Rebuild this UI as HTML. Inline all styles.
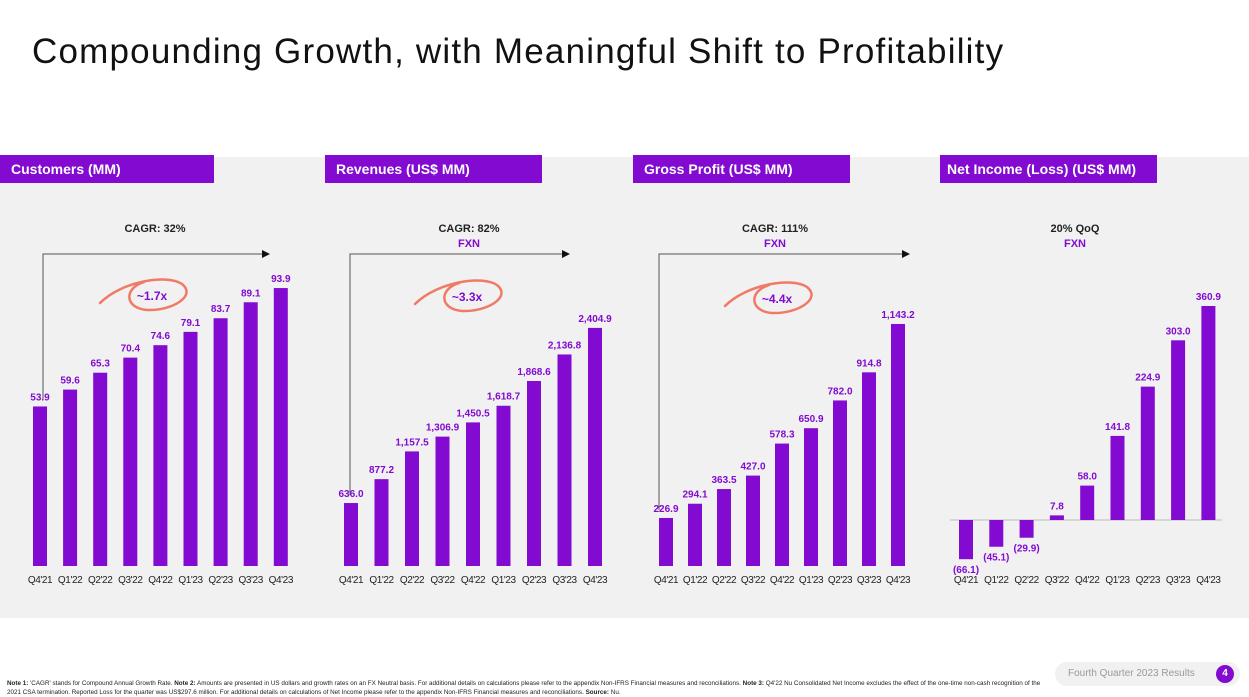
<!DOCTYPE html>
<html><head><meta charset="utf-8">
<style>
html,body{margin:0;padding:0;background:#fff;}
body{width:1249px;height:697px;position:relative;overflow:hidden;font-family:"Liberation Sans",sans-serif;}
#title{position:absolute;left:32px;top:32px;font-size:35px;color:#111;letter-spacing:1.2px;white-space:nowrap;}
#bg{position:absolute;left:0;top:157px;width:1249px;height:461px;background:#f1f1f1;}
.tbar{position:absolute;top:155px;height:28px;background:#820ad1;color:#fff;font-weight:bold;font-size:14px;line-height:28px;padding-left:11px;box-sizing:border-box;}
#note{position:absolute;left:7px;top:679px;font-size:6.3px;color:#222;line-height:9px;width:1040px;}
#badge{position:absolute;left:1055px;top:662px;width:185px;height:24px;border-radius:12px;background:#f1f1f1;color:#999;font-size:10px;line-height:24px;}
#badge span{position:absolute;left:13px;}
#badge b{position:absolute;right:6px;top:3px;width:18px;height:18px;border-radius:9px;background:#820ad1;color:#fff;text-align:center;line-height:18px;font-size:10px;}
svg{position:absolute;left:0;top:0;}
</style></head><body>
<div id="title">Compounding Growth, with Meaningful Shift to Profitability</div>
<div id="bg"></div>
<div class="tbar" style="left:0;width:214px">Customers (MM)</div>
<div class="tbar" style="left:325px;width:217px">Revenues (US$ MM)</div>
<div class="tbar" style="left:633px;width:217px">Gross Profit (US$ MM)</div>
<div class="tbar" style="left:940px;width:217px;padding-left:7px">Net Income (Loss) (US$ MM)</div>
<svg id="chart" width="1249" height="697"></svg>
<div id="note"><b>Note 1:</b> 'CAGR' stands for Compound Annual Growth Rate. <b>Note 2:</b> Amounts are presented in US dollars and growth rates on an FX Neutral basis. For additional details on calculations please refer to the appendix Non-IFRS Financial measures and reconciliations. <b>Note 3:</b> Q4'22 Nu Consolidated Net Income excludes the effect of the one-time non-cash recognition of the 2021 CSA termination. Reported Loss for the quarter was US$297.6 million. For additional details on calculations of Net Income please refer to the appendix Non-IFRS Financial measures and reconciliations. <b>Source:</b> Nu.</div>
<div id="badge"><span>Fourth Quarter 2023 Results</span><b>4</b></div>
<script>
const categories = ["Q4'21","Q1'22","Q2'22","Q3'22","Q4'22","Q1'23","Q2'23","Q3'23","Q4'23"];
const customers = [53.9,59.6,65.3,70.4,74.6,79.1,83.7,89.1,93.9];
const customerLabels = ["53.9","59.6","65.3","70.4","74.6","79.1","83.7","89.1","93.9"];
const revenues = [636.0,877.2,1157.5,1306.9,1450.5,1618.7,1868.6,2136.8,2404.9];
const revenueLabels = ["636.0","877.2","1,157.5","1,306.9","1,450.5","1,618.7","1,868.6","2,136.8","2,404.9"];
const grossProfit = [226.9,294.1,363.5,427.0,578.3,650.9,782.0,914.8,1143.2];
const grossProfitLabels = ["226.9","294.1","363.5","427.0","578.3","650.9","782.0","914.8","1,143.2"];
const netIncome = [-66.1,-45.1,-29.9,7.8,58.0,141.8,224.9,303.0,360.9];
const netIncomeLabels = ["(66.1)","(45.1)","(29.9)","7.8","58.0","141.8","224.9","303.0","360.9"];

const svg = document.getElementById('chart');
const NS = 'http://www.w3.org/2000/svg';
function mk(tag, attrs){const e=document.createElementNS(NS,tag);for(const k in attrs)e.setAttribute(k,attrs[k]);svg.appendChild(e);return e;}

function drawPanel(name, vals, labels, x0, step, zeroY, pxPerUnit, barW){
  const xs = i => x0 + i*step;
  const ys = v => zeroY - v*pxPerUnit;
  vals.forEach((v,i)=>{
    const y1 = Math.min(ys(v), zeroY), h = Math.abs(ys(v)-zeroY);
    const r = mk('rect',{x:xs(i)-barW/2,y:y1,width:barW,height:h,fill:'#820ad1'});
    
    
    const ty = v>=0 ? ys(v)-6 : ys(v)+14;
    const t = mk('text',{x:xs(i),y:ty,'text-anchor':'middle','font-size':'10','font-weight':'bold',fill:'#820ad1'});
    t.textContent = labels[i];
    
    
    const c = mk('text',{x:xs(i),y:583,'text-anchor':'middle','font-size':'10',fill:'#222','letter-spacing':'-0.4'});
    c.textContent = categories[i];
    
    
  });
}
drawPanel('customers', customers, customerLabels, 40, 30.1, 566, 2.96, 14);
drawPanel('revenues', revenues, revenueLabels, 351, 30.5, 566, 0.099, 14);
drawPanel('gross-profit', grossProfit, grossProfitLabels, 666, 29, 566, 0.2117, 14);
const z = mk('line',{x1:950,y1:520,x2:1222,y2:520,stroke:'#bbb','stroke-width':1});


drawPanel('net-income', netIncome, netIncomeLabels, 966, 30.3, 520, 0.593, 14);

function txt(x,y,s,col,name){const t=mk('text',{x:x,y:y,'text-anchor':'middle','font-size':'11','font-weight':'bold',fill:col});t.textContent=s;}
function arrow(x,yb,x2,name){const p=mk('path',{d:`M${x} ${yb} V254 H${x2-6}`,fill:'none',stroke:'#555','stroke-width':1});
 const h=mk('path',{d:`M${x2-8} 250 L${x2} 254 L${x2-8} 258 Z`,fill:'#111'});}
function circ(cx,cy,s,name){const p=mk('path',{d:`M${cx-52} ${cy+7} C${cx-30} ${cy-15} ${cx+15} ${cy-22} ${cx+30} ${cy-12} C${cx+45} ${cy} ${cx+20} ${cy+15} ${cx-5} ${cy+14} C${cx-28} ${cy+12} ${cx-28} ${cy-8} ${cx-8} ${cy-14}`,fill:'none',stroke:'#f07a66','stroke-width':2.5,'stroke-linecap':'round'});
 const t=mk('text',{x:cx,y:cy+4,'text-anchor':'middle','font-size':'12','font-weight':'bold',fill:'#820ad1'});t.textContent=s;}
txt(155,232,'CAGR: 32%','#222','customers-cagr');
arrow(43,400,270,'customers-arrow');
circ(152,296,'~1.7x','customers-multiple');
txt(469,232,'CAGR: 82%','#222','revenues-cagr');
txt(469,247,'FXN','#820ad1','revenues-fxn');
arrow(350,495,570,'revenues-arrow');
circ(467,297,'~3.3x','revenues-multiple');
txt(775,232,'CAGR: 111%','#222','gross-profit-cagr');
txt(775,247,'FXN','#820ad1','gross-profit-fxn');
arrow(659,510,910,'gross-profit-arrow');
circ(777,299,'~4.4x','gross-profit-multiple');
txt(1075,232,'20% QoQ','#222','net-income-qoq');
txt(1075,247,'FXN','#820ad1','net-income-fxn');
</script>
</body></html>
